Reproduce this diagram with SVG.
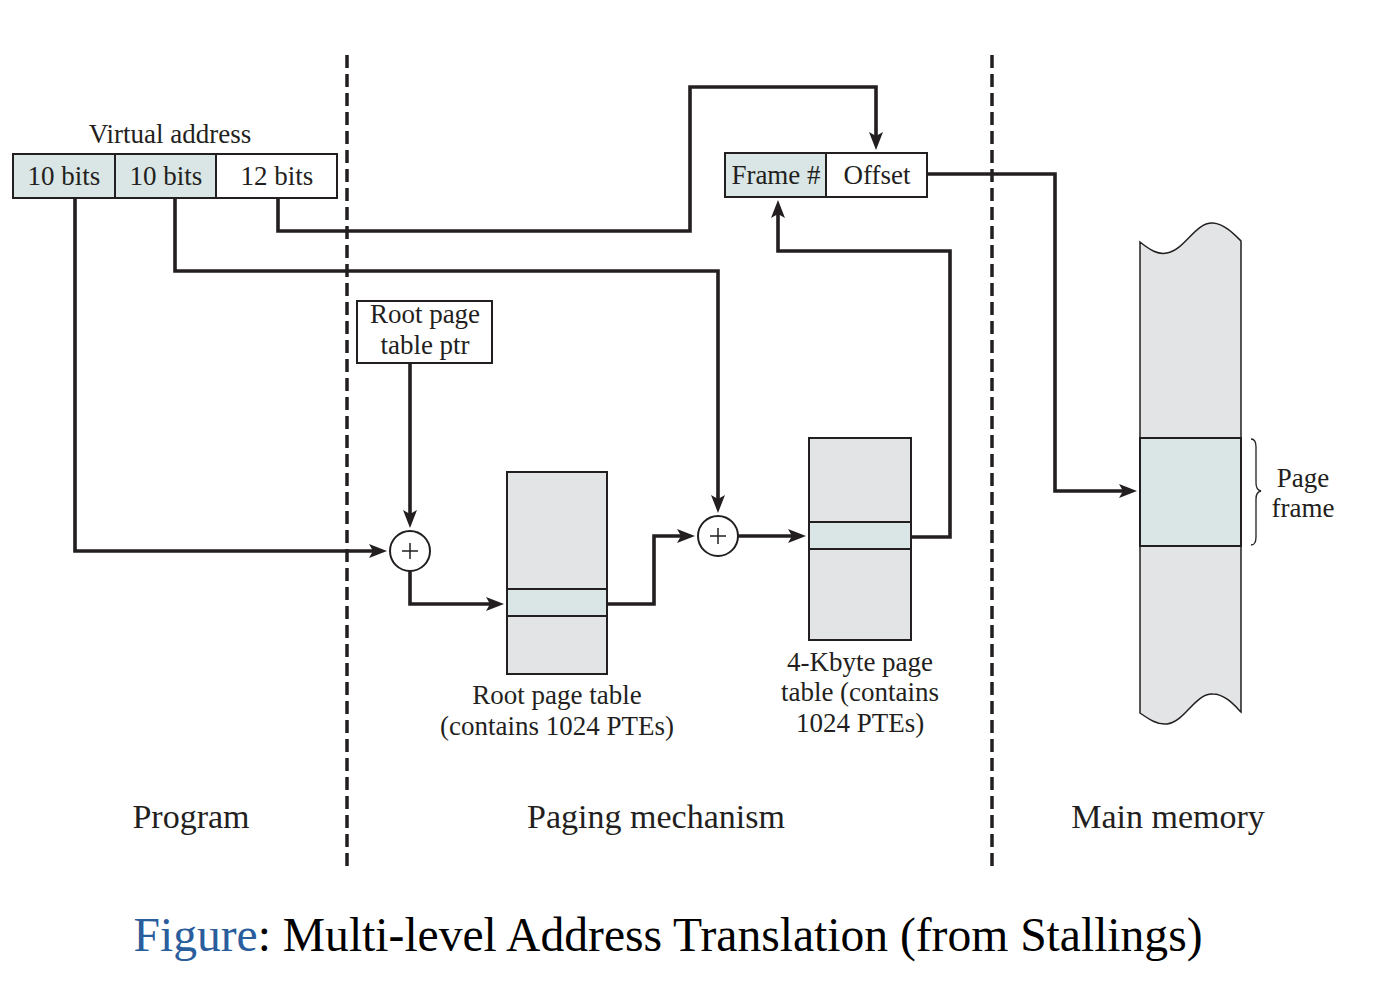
<svg xmlns="http://www.w3.org/2000/svg" width="1378" height="986" viewBox="0 0 1378 986">
<style>
text{font-family:"Liberation Serif","Times New Roman",serif;fill:#231f20;text-anchor:middle}
.t{font-size:27px}
.big{font-size:34px}
.box{stroke:#231f20;stroke-width:2}
.teal{fill:#d9e6e5}
.wh{fill:#ffffff}
.gr{fill:#e3e4e6}
.con{fill:none;stroke:#231f20;stroke-width:3.6;stroke-linejoin:miter}
.arr{marker-end:url(#ah)}
.dash{stroke:#231f20;stroke-width:3.5;stroke-dasharray:13 6;fill:none}
</style>
<defs>
<marker id="ah" markerUnits="userSpaceOnUse" markerWidth="18" markerHeight="14" refX="10" refY="7" orient="auto" viewBox="0 0 18 14">
<path d="M0,0 L18,7 L0,14 L4,7 Z" fill="#231f20"/>
</marker>
</defs>
<rect width="1378" height="986" fill="#ffffff"/>

<g id="dividers">
<line class="dash" x1="347" y1="55" x2="347" y2="866"/>
<line class="dash" x1="992" y1="55" x2="992" y2="866"/>
</g>

<g id="virtual-address">
<text class="t" x="170" y="143">Virtual address</text>
<rect class="box teal" x="13" y="154" width="102" height="44"/>
<rect class="box teal" x="115" y="154" width="101" height="44"/>
<rect class="box wh" x="216" y="154" width="121" height="44"/>
<text class="t" x="64" y="185">10 bits</text>
<text class="t" x="166" y="185">10 bits</text>
<text class="t" x="277" y="185">12 bits</text>
</g>

<g id="physical-address">
<rect class="box teal" x="725" y="153" width="101" height="44"/>
<rect class="box wh" x="826" y="153" width="101" height="44"/>
<text class="t" x="776" y="184">Frame #</text>
<text class="t" x="877" y="184">Offset</text>
</g>

<g id="root-ptr">
<rect class="box wh" x="357" y="301" width="135" height="62"/>
<text class="t" x="425" y="323">Root page</text>
<text class="t" x="425" y="354">table ptr</text>
</g>

<g id="adder1">
<circle class="box wh" cx="410" cy="551" r="20"/>
<path d="M402 551 H418 M410 543 V559" stroke="#231f20" stroke-width="1.5" fill="none"/>
</g>

<g id="adder2">
<circle class="box wh" cx="718" cy="536" r="20"/>
<path d="M710 536 H726 M718 528 V544" stroke="#231f20" stroke-width="1.5" fill="none"/>
</g>

<g id="root-table">
<rect class="box gr" x="507" y="472" width="100" height="202"/>
<rect class="box teal" x="507" y="589" width="100" height="27"/>
<text class="t" x="557" y="704">Root page table</text>
<text class="t" x="557" y="735">(contains 1024 PTEs)</text>
</g>

<g id="page-table">
<rect class="box gr" x="809" y="438" width="102" height="202"/>
<rect class="box teal" x="809" y="522" width="102" height="27"/>
<text class="t" x="860" y="671">4-Kbyte page</text>
<text class="t" x="860" y="701">table (contains</text>
<text class="t" x="860" y="732">1024 PTEs)</text>
</g>

<g id="main-memory">
<path class="gr" d="M1140 242 C1150 250 1158 255 1167 253 C1185 250 1195 222 1213 223 C1225 224 1235 235 1241 241 V712 C1235 706 1225 694 1213 694 C1195 693 1185 722 1167 724 C1158 725 1150 720 1140 713 Z" stroke="#231f20" stroke-width="1.5"/>
<rect class="box teal" x="1140" y="438" width="101" height="108"/>
<path d="M1251 439 Q1256 439 1256 447 V483 Q1256 490 1261 491 Q1256 492 1256 499 V537 Q1256 545 1251 545" fill="none" stroke="#231f20" stroke-width="1.3"/>
<text class="t" x="1303" y="487">Page</text>
<text class="t" x="1303" y="517">frame</text>
</g>

<g id="connectors">
<path class="con arr" d="M75 198 V551 H379"/>
<path class="con arr" d="M175 198 V271 H718 V505"/>
<path class="con arr" d="M278 198 V231 H690 V87 H876 V142"/>
<path class="con arr" d="M410 363 V520"/>
<path class="con arr" d="M410 571 V604 H496"/>
<path class="con arr" d="M607 604 H654 V536 H687"/>
<path class="con arr" d="M738 536 H798"/>
<path class="con arr" d="M911 537 H950 V251 H778 V208"/>
<path class="con arr" d="M927 174 H1055 V491 H1129"/>
</g>

<g id="region-labels">
<text class="big" x="191" y="828">Program</text>
<text class="big" x="656" y="828">Paging mechanism</text>
<text class="big" x="1168" y="828">Main memory</text>
</g>

<g id="caption">
<text x="668" y="951" textLength="1069" lengthAdjust="spacingAndGlyphs" style="font-size:48px;fill:#000000"><tspan fill="#2a5d9c">Figure</tspan>: Multi-level Address Translation (from Stallings)</text>
</g>
</svg>
